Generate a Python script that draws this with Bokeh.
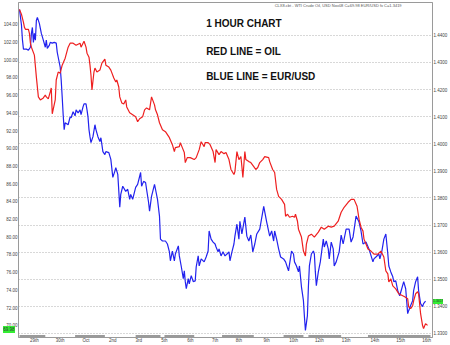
from bokeh.plotting import figure
from bokeh.models import Range1d, LinearAxis, FixedTicker, NumeralTickFormatter, Grid, Label, Div
from bokeh.layouts import column
from bokeh.embed import file_html
from bokeh.resources import INLINE

# ---- data (hours since start, Sep 29 2008) ----
oil_hours = [0,2,4,5,6,9,10,11,12,15,
             17,19,21,24,26,27,29,31,32,33,
             36,37,39,41,43,46,49,51,54,57,
             61,62,65,67,68,70,71,72,73,75,
             76,78,81,83,86,87,90,92,95,97,
             98,100,101,103,105,107,108,111,114,117,
             119,121,124,126,128,131,133,136,137,139,
             141,144,147,151,154,156,157,161,162,164,
             166,167,169,172,176,178,181,183,186,187,
             190,192,195,197,198,201,203,206,208,211,
             213,216,217,219,221,223,224,225,227,228,
             231,233,236,238,240,242,245,247,251,252,
             255,257,259,261,264,267,268,270,272,275,
             277,278,280,281,284,286,288,289,291,294,
             297,301,304,307,311,314,317,321,324,327,
             331,334,337,340,342,344,346,347,349,351,
             354,357,361,364,367,369,371,372,374,376,
             379,382,386,388,391,392,394,396,397,399,
             401,402,404,406,407,409,411]
oil_price = [105.69,105.12,104.22,103.66,103.44,103.44,102.99,101.87,101.42,100.52,
             98.04,95.80,95.46,95.69,96.02,95.80,95.57,96.36,96.81,93.89,
             95.46,97.71,98.61,98.49,99.39,100.18,101.42,101.87,101.87,101.64,
             101.87,101.42,102.09,101.42,100.74,100.29,99.39,98.27,96.58,98.61,
             99.06,98.61,98.83,99.62,100.07,99.39,99.17,98.83,97.93,97.48,
             97.71,96.92,95.80,95.12,95.01,95.46,94.67,94.00,93.78,93.55,
             92.99,93.33,93.55,94.34,94.56,94.34,95.80,94.90,94.34,93.78,
             92.88,92.09,91.87,91.19,90.40,89.62,90.07,90.18,90.63,90.07,
             89.51,88.38,88.94,88.94,88.72,88.94,89.84,90.74,90.18,90.63,
             90.63,90.40,89.62,88.38,89.84,89.28,89.62,89.39,89.51,88.72,
             87.60,87.03,87.37,89.62,88.72,89.06,87.93,86.70,89.62,88.72,
             88.49,88.38,87.93,87.60,87.82,88.38,88.72,89.06,88.94,88.49,
             87.60,87.26,85.35,84.56,84.22,83.66,82.31,82.54,82.20,82.31,
             82.20,82.54,81.75,80.85,79.96,78.38,77.82,79.17,80.07,80.29,
             79.96,80.52,81.08,80.85,81.19,81.08,81.19,81.75,82.76,83.33,
             83.89,84.22,84.22,83.44,81.98,81.08,80.63,79.73,79.17,78.61,
             78.38,78.04,78.04,78.38,77.71,76.13,75.80,74.90,75.24,74.45,
             74.11,73.55,73.33,73.21,72.99,72.09,71.87,72.20,72.76,73.55,
             73.78,73.55,71.30,69.96,69.62,70.18,69.98]

eur_hours = [0,2,3,4,7,9,11,12,13,14,
             15,16,17,18,20,22,24,26,27,28,
             30,31,33,35,37,38,39,41,42,43,
             44,45,46,49,51,52,54,56,57,59,
             61,62,64,65,67,68,69,70,71,72,
             74,76,77,79,81,82,84,86,87,90,
             92,94,96,97,99,101,102,104,107,109,
             111,112,114,117,119,121,122,123,125,127,
             128,130,131,133,136,137,139,141,142,144,
             147,149,151,152,154,156,157,160,161,163,
             165,166,167,168,170,171,173,175,177,178,
             180,181,183,186,188,190,191,193,195,197,
             198,200,201,203,205,207,209,211,212,214,
             216,217,219,221,222,224,227,229,231,233,
             235,237,239,242,246,249,252,254,256,257,
             259,261,263,266,268,271,274,276,277,279,
             281,282,284,286,287,288,290,291,292,294,
             296,297,298,299,301,303,306,307,309,311,
             312,314,316,317,319,322,324,326,329,332,
             334,336,339,342,344,346,349,352,356,357,
             359,362,363,365,367,369,371,372,374,376,
             377,379,381,383,385,387,389,391,392,394,
             396,397,399,401,402,404,406,407,409]
eur_rate = [1.4495,1.4437,1.4382,1.4349,1.4349,1.4345,1.4356,1.4407,1.4429,1.4374,
            1.4407,1.4382,1.4455,1.4466,1.4444,1.4407,1.4382,1.4356,1.4382,1.4352,
            1.4363,1.4374,1.4371,1.4374,1.4371,1.4338,1.4319,1.4283,1.4235,1.4173,
            1.4107,1.4052,1.4077,1.4070,1.4099,1.4096,1.4118,1.4103,1.4125,1.4114,
            1.4125,1.4107,1.4136,1.4147,1.4147,1.4125,1.4099,1.4052,1.4026,1.4004,
            1.4026,1.4070,1.4052,1.4026,1.4008,1.4022,1.3971,1.3960,1.3971,1.3967,
            1.3942,1.3876,1.3898,1.3912,1.3887,1.3766,1.3813,1.3843,1.3824,1.3832,
            1.3795,1.3813,1.3795,1.3839,1.3850,1.3879,1.3894,1.3843,1.3861,1.3857,
            1.3832,1.3784,1.3751,1.3806,1.3850,1.3832,1.3795,1.3733,1.3648,1.3641,
            1.3641,1.3630,1.3601,1.3568,1.3604,1.3568,1.3593,1.3623,1.3586,1.3546,
            1.3502,1.3531,1.3491,1.3465,1.3502,1.3483,1.3513,1.3491,1.3494,1.3546,
            1.3586,1.3549,1.3575,1.3564,1.3582,1.3604,1.3678,1.3648,1.3637,1.3630,
            1.3619,1.3601,1.3612,1.3586,1.3601,1.3586,1.3593,1.3601,1.3568,1.3601,
            1.3630,1.3659,1.3703,1.3648,1.3714,1.3667,1.3729,1.3659,1.3641,1.3663,
            1.3601,1.3630,1.3667,1.3685,1.3769,1.3711,1.3659,1.3678,1.3641,1.3678,
            1.3648,1.3612,1.3582,1.3575,1.3564,1.3531,1.3604,1.3593,1.3564,1.3549,
            1.3527,1.3549,1.3472,1.3421,1.3362,1.3311,1.3366,1.3472,1.3549,1.3593,
            1.3604,1.3593,1.3527,1.3476,1.3527,1.3564,1.3648,1.3619,1.3641,1.3612,
            1.3575,1.3637,1.3612,1.3549,1.3564,1.3601,1.3663,1.3630,1.3685,1.3685,
            1.3637,1.3656,1.3733,1.3711,1.3678,1.3630,1.3637,1.3612,1.3564,1.3575,
            1.3582,1.3593,1.3575,1.3604,1.3648,1.3667,1.3593,1.3549,1.3527,1.3509,
            1.3491,1.3494,1.3458,1.3439,1.3465,1.3491,1.3465,1.3373,1.3384,1.3403,
            1.3421,1.3458,1.3491,1.3509,1.3458,1.3410,1.3399,1.3410,1.3419]

day_tick_hours = [15, 41, 67, 94, 120, 146, 172, 197, 221, 249, 276, 302, 329, 358, 384, 410]
day_tick_labels = ["29th", "30th", "Oct", "2nd", "3rd", "5th", "6th", "7th", "8th", "9th",
                   "10th", "12th", "13th", "14th", "15th", "16th"]
session_start = [0, 56, 117, 146, 204, 266, 291, 351]
session_end = [26, 86, 142, 176, 236, 286, 324, 414]
oil_ticks = [70, 72, 74, 76, 78, 80, 82, 84, 86, 88, 90, 92, 94, 96, 98, 100, 102, 104]
eur_ticks = [1.33, 1.34, 1.35, 1.36, 1.37, 1.38, 1.39, 1.40, 1.41, 1.42, 1.43, 1.44]
oil_last = 69.98
eur_last = 1.3419

FONT = "Liberation Sans"
OIL_LO, OIL_HI = 68.61, 106.47
EUR_LO, EUR_HI = 1.3285, 1.4521

p = figure(width=450, height=345, output_backend="svg", toolbar_location=None,
           x_range=Range1d(-1, 416), y_range=Range1d(OIL_LO, OIL_HI),
           min_border_left=15, min_border_right=18, min_border_top=2, min_border_bottom=6,
           background_fill_color="white", border_fill_color="white")
p.outline_line_color = "#9a9a9a"
p.extra_y_ranges = {"eur": Range1d(EUR_LO, EUR_HI)}
p.xgrid.visible = False
p.ygrid.visible = False

# left axis (oil)
ya = p.yaxis[0]
ya.ticker = FixedTicker(ticks=oil_ticks)
ya.formatter = NumeralTickFormatter(format="0.00")
ya.major_label_text_font_size = "4.5px"
ya.major_label_text_font = FONT
ya.major_label_text_color = "#444444"
ya.major_tick_out = 0
ya.major_tick_in = 0
ya.minor_tick_out = 0
ya.minor_tick_in = 0
ya.major_label_standoff = 1
ya.axis_line_color = "#9a9a9a"

# right axis (EUR/USD)
ra = LinearAxis(y_range_name="eur", ticker=FixedTicker(ticks=eur_ticks),
                formatter=NumeralTickFormatter(format="0.0000"))
ra.major_label_text_font_size = "4.5px"
ra.major_label_text_font = FONT
ra.major_label_text_color = "#444444"
ra.major_tick_out = 0
ra.major_tick_in = 0
ra.minor_tick_out = 0
ra.minor_tick_in = 0
ra.major_label_standoff = 1
ra.axis_line_color = "#9a9a9a"
p.add_layout(ra, "right")

g = Grid(dimension=1, ticker=FixedTicker(ticks=eur_ticks), y_range_name="eur",
         grid_line_color="#b0b0b0", grid_line_dash="1 2", grid_line_width=1)
p.add_layout(g)

# bottom axis
xa = p.xaxis[0]
xa.ticker = FixedTicker(ticks=day_tick_hours)
xa.major_label_overrides = {h: lab for h, lab in zip(day_tick_hours, day_tick_labels)}
xa.major_label_text_font_size = "4.5px"
xa.major_label_text_font = FONT
xa.major_label_text_color = "#444444"
xa.major_tick_out = 0
xa.major_tick_in = 0
xa.minor_tick_out = 0
xa.minor_tick_in = 0
xa.major_label_standoff = 0
xa.axis_line_color = None

# session bars along the bottom edge
band_top = OIL_LO + (OIL_HI - OIL_LO) * 0.0075
p.quad(left=session_start, right=session_end, top=band_top, bottom=OIL_LO,
       fill_color="#9a9a9a", line_color=None)

# series
p.line(eur_hours, eur_rate, y_range_name="eur", line_color="#2222ee", line_width=1.2)
p.line(oil_hours, oil_price, line_color="#ee2020", line_width=1.2)

# texts
for txt, yv in [("1 HOUR CHART", 104.11), ("RED LINE = OIL", 100.97), ("BLUE LINE = EUR/USD", 98.16)]:
    p.add_layout(Label(x=188, y=yv, text=txt, text_font=FONT, text_font_size="10px",
                       text_font_style="bold", text_color="#111111", text_baseline="middle"))

p.add_layout(Label(x=257, y=106.13,
                   text="CLX8.cbt - WTI Crude Oil, USD Nov08 C=69.98      EUR/USD fx C=1.3419",
                   text_font=FONT, text_font_size="4px", text_color="#555555",
                   text_baseline="middle"))

# last-value markers sitting on the axes (HTML overlays, outside the plot frame)
def tag(text, left, top, w, h, fs):
    return Div(text=text, styles={
        "position": "absolute", "left": "%dpx" % left, "top": "%dpx" % top,
        "width": "%dpx" % w, "height": "%dpx" % h, "line-height": "%dpx" % h,
        "background-color": "#33ee33", "color": "#333333", "font-size": fs,
        "font-family": FONT, "text-align": "center", "overflow": "hidden",
        "z-index": "10", "margin": "0", "padding": "0"})

oil_tag = tag("%.2f" % oil_last, 3, 326, 12, 7, "4.5px")
eur_tag = tag("%.4f" % eur_last, 433, 299, 10, 5, "3.5px")
edge = Div(text="", styles={"position": "absolute", "left": "446px", "top": "0px",
                            "width": "2px", "height": "345px",
                            "background-color": "#cfe3cf", "z-index": "10"})

layout = column(p, oil_tag, eur_tag, edge, spacing=0)
open("out.html", "w").write(file_html(layout, INLINE))
